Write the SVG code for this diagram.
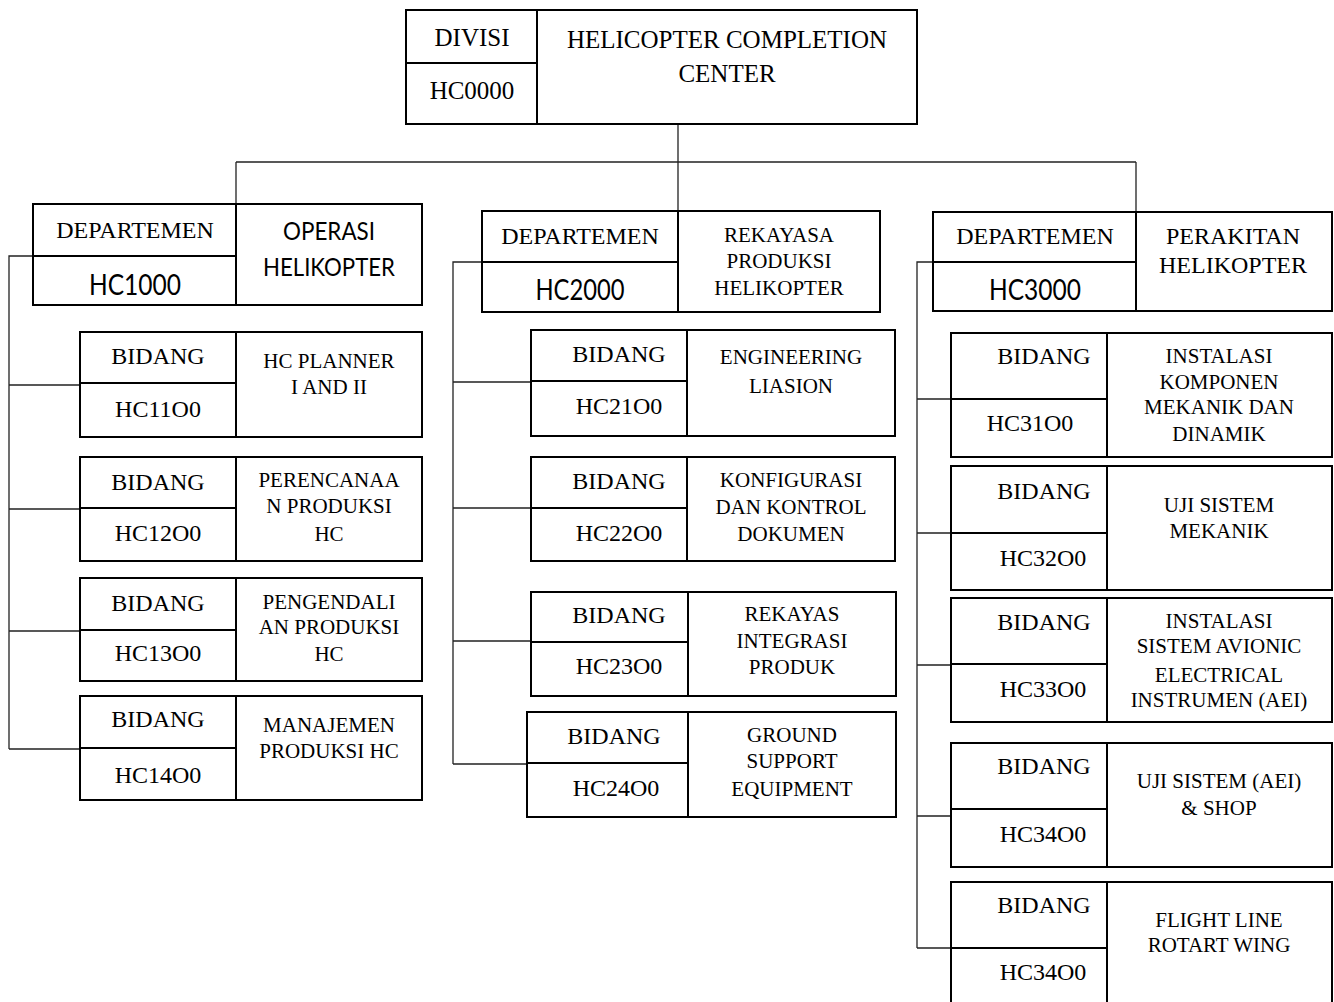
<svg xmlns="http://www.w3.org/2000/svg" width="1334" height="1002" viewBox="0 0 1334 1002">
<style>
.box{fill:#fff;stroke:#000;stroke-width:2}
.ln{stroke:#000;stroke-width:2;fill:none}
.conn{stroke:#222;stroke-width:1.3;fill:none}
text{font-family:"Liberation Serif","Times New Roman",serif;text-anchor:middle;fill:#000}
.l{font-size:24px}
.n{font-size:21px}
.top{font-size:25px}
.c{font-family:Lato,"Open Sans",sans-serif}
</style>
<rect width="1334" height="1002" fill="#fff"/>
<g id="connectors">
<path class="conn" d="M678 124V162M236 162H1136M236 162V204M678 162V211M1136 162V212"/>
<path class="conn" d="M33 256H9V749M9 385H80M9 509H80M9 631H80M9 749H80"/>
<path class="conn" d="M482 262H453V764M453 382H531M453 508H531M453 641H531M453 764H527"/>
<path class="conn" d="M933 262H917V948M917 399H951M917 533H951M917 665H951M917 816H951M917 948H951"/>
</g>
<g id="divisi">
<rect class="box" x="406" y="10" width="511" height="114"/>
<path class="ln" d="M537 10V124M406 63H537"/>
<text class="top" x="472" y="46">DIVISI</text>
<text class="top" x="472" y="99">HC0000</text>
<text class="top" x="727" y="48">HELICOPTER COMPLETION</text>
<text class="top" x="727" y="82">CENTER</text>
</g>
<g id="dept1">
<rect class="box" x="33" y="204" width="389" height="101"/>
<path class="ln" d="M236 204V305M33 256H236"/>
<text class="l" x="135" y="238">DEPARTEMEN</text>
<text class="c" x="135" y="295" font-size="28" textLength="92" lengthAdjust="spacingAndGlyphs">HC1000</text>
<text class="c" x="329" y="240" font-size="25" textLength="92" lengthAdjust="spacingAndGlyphs">OPERASI</text>
<text class="c" x="329" y="276" font-size="25" textLength="132" lengthAdjust="spacingAndGlyphs">HELIKOPTER</text>
</g>
<g id="hc1100">
<rect class="box" x="80" y="332" width="342" height="105"/>
<path class="ln" d="M236 332V437M80 383H236"/>
<text class="l" x="158" y="364">BIDANG</text>
<text class="l" x="158" y="417">HC11O0</text>
<text class="n" x="329" y="368">HC PLANNER</text>
<text class="n" x="329" y="394">I AND II</text>
</g>
<g id="hc1200">
<rect class="box" x="80" y="457" width="342" height="104"/>
<path class="ln" d="M236 457V561M80 508H236"/>
<text class="l" x="158" y="490">BIDANG</text>
<text class="l" x="158" y="541">HC12O0</text>
<text class="n" x="329" y="487">PERENCANAA</text>
<text class="n" x="329" y="513">N PRODUKSI</text>
<text class="n" x="329" y="541">HC</text>
</g>
<g id="hc1300">
<rect class="box" x="80" y="578" width="342" height="103"/>
<path class="ln" d="M236 578V681M80 630H236"/>
<text class="l" x="158" y="611">BIDANG</text>
<text class="l" x="158" y="661">HC13O0</text>
<text class="n" x="329" y="609">PENGENDALI</text>
<text class="n" x="329" y="634">AN PRODUKSI</text>
<text class="n" x="329" y="661">HC</text>
</g>
<g id="hc1400">
<rect class="box" x="80" y="696" width="342" height="104"/>
<path class="ln" d="M236 696V800M80 748H236"/>
<text class="l" x="158" y="727">BIDANG</text>
<text class="l" x="158" y="783">HC14O0</text>
<text class="n" x="329" y="732">MANAJEMEN</text>
<text class="n" x="329" y="758">PRODUKSI HC</text>
</g>
<g id="dept2">
<rect class="box" x="482" y="211" width="398" height="101"/>
<path class="ln" d="M678 211V312M482 262H678"/>
<text class="l" x="580" y="244">DEPARTEMEN</text>
<text class="c" x="580" y="300" font-size="28" textLength="89" lengthAdjust="spacingAndGlyphs">HC2000</text>
<text class="n" x="779" y="242">REKAYASA</text>
<text class="n" x="779" y="268">PRODUKSI</text>
<text class="n" x="779" y="295">HELIKOPTER</text>
</g>
<g id="hc2100">
<rect class="box" x="531" y="330" width="364" height="106"/>
<path class="ln" d="M687 330V436M531 381H687"/>
<text class="l" x="619" y="362">BIDANG</text>
<text class="l" x="619" y="414">HC21O0</text>
<text class="n" x="791" y="364">ENGINEERING</text>
<text class="n" x="791" y="393">LIASION</text>
</g>
<g id="hc2200">
<rect class="box" x="531" y="457" width="364" height="104"/>
<path class="ln" d="M687 457V561M531 508H687"/>
<text class="l" x="619" y="489">BIDANG</text>
<text class="l" x="619" y="541">HC22O0</text>
<text class="n" x="791" y="487">KONFIGURASI</text>
<text class="n" x="791" y="514">DAN KONTROL</text>
<text class="n" x="791" y="541">DOKUMEN</text>
</g>
<g id="hc2300">
<rect class="box" x="531" y="592" width="365" height="104"/>
<path class="ln" d="M688 592V696M531 642H688"/>
<text class="l" x="619" y="623">BIDANG</text>
<text class="l" x="619" y="674">HC23O0</text>
<text class="n" x="792" y="621">REKAYAS</text>
<text class="n" x="792" y="648">INTEGRASI</text>
<text class="n" x="792" y="674">PRODUK</text>
</g>
<g id="hc2400">
<rect class="box" x="527" y="712" width="369" height="105"/>
<path class="ln" d="M688 712V817M527 763H688"/>
<text class="l" x="614" y="744">BIDANG</text>
<text class="l" x="616" y="796">HC24O0</text>
<text class="n" x="792" y="742">GROUND</text>
<text class="n" x="792" y="768">SUPPORT</text>
<text class="n" x="792" y="796">EQUIPMENT</text>
</g>
<g id="dept3">
<rect class="box" x="933" y="212" width="399" height="99"/>
<path class="ln" d="M1136 212V311M933 262H1136"/>
<text class="l" x="1035" y="244">DEPARTEMEN</text>
<text class="c" x="1035" y="300" font-size="28" textLength="92" lengthAdjust="spacingAndGlyphs">HC3000</text>
<text class="l" x="1233" y="244">PERAKITAN</text>
<text class="l" x="1233" y="273">HELIKOPTER</text>
</g>
<g id="hc3100">
<rect class="box" x="951" y="333" width="381" height="124"/>
<path class="ln" d="M1107 333V457M951 399H1107"/>
<text class="l" x="1044" y="364">BIDANG</text>
<text class="l" x="1030" y="431">HC31O0</text>
<text class="n" x="1219" y="363">INSTALASI</text>
<text class="n" x="1219" y="389">KOMPONEN</text>
<text class="n" x="1219" y="414">MEKANIK DAN</text>
<text class="n" x="1219" y="441">DINAMIK</text>
</g>
<g id="hc3200">
<rect class="box" x="951" y="466" width="381" height="124"/>
<path class="ln" d="M1107 466V590M951 533H1107"/>
<text class="l" x="1044" y="499">BIDANG</text>
<text class="l" x="1043" y="566">HC32O0</text>
<text class="n" x="1219" y="512">UJI SISTEM</text>
<text class="n" x="1219" y="538">MEKANIK</text>
</g>
<g id="hc3300">
<rect class="box" x="951" y="598" width="381" height="124"/>
<path class="ln" d="M1107 598V722M951 664H1107"/>
<text class="l" x="1044" y="630">BIDANG</text>
<text class="l" x="1043" y="697">HC33O0</text>
<text class="n" x="1219" y="628">INSTALASI</text>
<text class="n" x="1219" y="653">SISTEM AVIONIC</text>
<text class="n" x="1219" y="682">ELECTRICAL</text>
<text class="n" x="1219" y="707">INSTRUMEN (AEI)</text>
</g>
<g id="hc3400">
<rect class="box" x="951" y="743" width="381" height="124"/>
<path class="ln" d="M1107 743V867M951 809H1107"/>
<text class="l" x="1044" y="774">BIDANG</text>
<text class="l" x="1043" y="842">HC34O0</text>
<text class="n" x="1219" y="788">UJI SISTEM (AEI)</text>
<text class="n" x="1219" y="815">&amp; SHOP</text>
</g>
<g id="hc3400b">
<rect class="box" x="951" y="882" width="381" height="130"/>
<path class="ln" d="M1107 882V1012M951 948H1107"/>
<text class="l" x="1044" y="913">BIDANG</text>
<text class="l" x="1043" y="980">HC34O0</text>
<text class="n" x="1219" y="927">FLIGHT LINE</text>
<text class="n" x="1219" y="952">ROTART WING</text>
</g>
</svg>
